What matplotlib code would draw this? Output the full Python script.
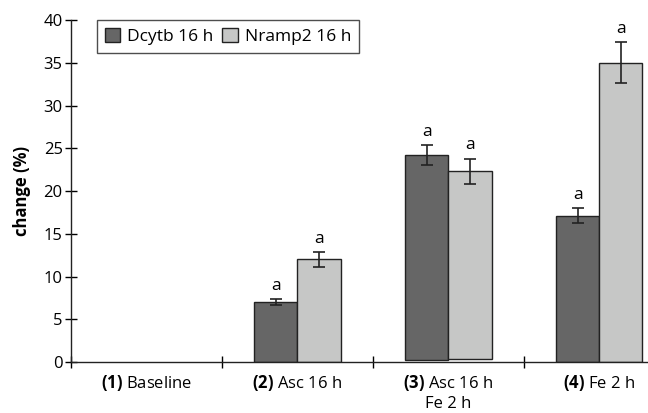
import numpy as np
import matplotlib
matplotlib.use("Agg")
import matplotlib.pyplot as plt

plt.rcParams['font.family'] = ['Open Sans', 'DejaVu Sans']
plt.rcParams['mathtext.fontset'] = 'custom'
plt.rcParams['mathtext.rm'] = 'Open Sans'
plt.rcParams['mathtext.bf'] = 'Open Sans:bold'

# --- data ---
groups = [r"$\mathbf{(1)}$ Baseline", r"$\mathbf{(2)}$ Asc 16 h",
          "$\\mathbf{(3)}$ Asc 16 h\nFe 2 h", r"$\mathbf{(4)}$ Fe 2 h"]
series_names = ["Dcytb 16 h", "Nramp2 16 h"]
dcytb = [0.0, 7.0, 24.2, 17.1]
dcytb_err = [0.0, 0.35, 1.2, 0.9]
dcytb_bottom = [0.0, 0.0, 0.2, 0.0]
nramp2 = [0.0, 12.0, 22.3, 35.0]
nramp2_err = [0.0, 0.9, 1.5, 2.4]
nramp2_bottom = [0.0, 0.0, 0.4, 0.0]
sig_labels = ["", "a", "a", "a"]

dark = "#666666"
light = "#c6c7c6"

fig = plt.figure(figsize=(6.48, 4.13), dpi=100)
ax = fig.add_axes([0.1096, 0.1235, 0.932, 0.828])

x = np.arange(len(groups))
w = 0.285

for vals, errs, bots, off, col, name in [
        (dcytb, dcytb_err, dcytb_bottom, -w / 2, dark, series_names[0]),
        (nramp2, nramp2_err, nramp2_bottom, w / 2, light, series_names[1])]:
    vals = np.array(vals)
    errs = np.array(errs)
    bots = np.array(bots)
    show = vals > 0
    ax.bar(x[show] + off, (vals - bots)[show], w, bottom=bots[show],
           color=col, edgecolor="#222222", linewidth=1.0, label=name, zorder=2)
    ax.errorbar(x[show] + off, vals[show], yerr=errs[show], fmt="none",
                ecolor="#222222", elinewidth=1.2, capsize=4, capthick=1.2, zorder=3)
    for xi, v, e, s in zip(x[show] + off, vals[show], errs[show],
                           np.array(sig_labels)[show]):
        ax.text(xi, v + e + 0.6, s, ha="center", va="bottom", fontsize=12.5)

ax.set_xlim(-0.5, 3.5)
ax.set_ylim(0, 40)
ax.set_yticks(np.arange(0, 41, 5))
ax.set_xticks(np.arange(-0.5, 3.6, 1.0))
ax.set_xticklabels([])
ax.set_xticks(x, minor=True)
ax.set_xticklabels(groups, minor=True, fontsize=12, va="top")
ax.tick_params(axis="x", which="minor", length=0, pad=8)
ax.tick_params(axis="x", which="major", direction="inout", length=9, width=1)
ax.tick_params(axis="y", direction="inout", length=8, width=1, labelsize=12, pad=2)

for s in ["top", "right"]:
    ax.spines[s].set_visible(False)
for s in ["left", "bottom"]:
    ax.spines[s].set_linewidth(1.0)
    ax.spines[s].set_color("#222222")

ax.set_ylabel("change (%)", fontsize=12, fontweight="bold", labelpad=9)

leg = ax.legend(loc="upper left", bbox_to_anchor=(0.043, 1.0), ncol=2,
                frameon=True, fancybox=False, edgecolor="#222222",
                fontsize=12.5, handlelength=0.9, handleheight=0.9,
                handletextpad=0.4, columnspacing=0.5, borderpad=0.45,
                borderaxespad=0.0)
leg.get_frame().set_linewidth(1.0)

fig.savefig("out.png", dpi=100)
